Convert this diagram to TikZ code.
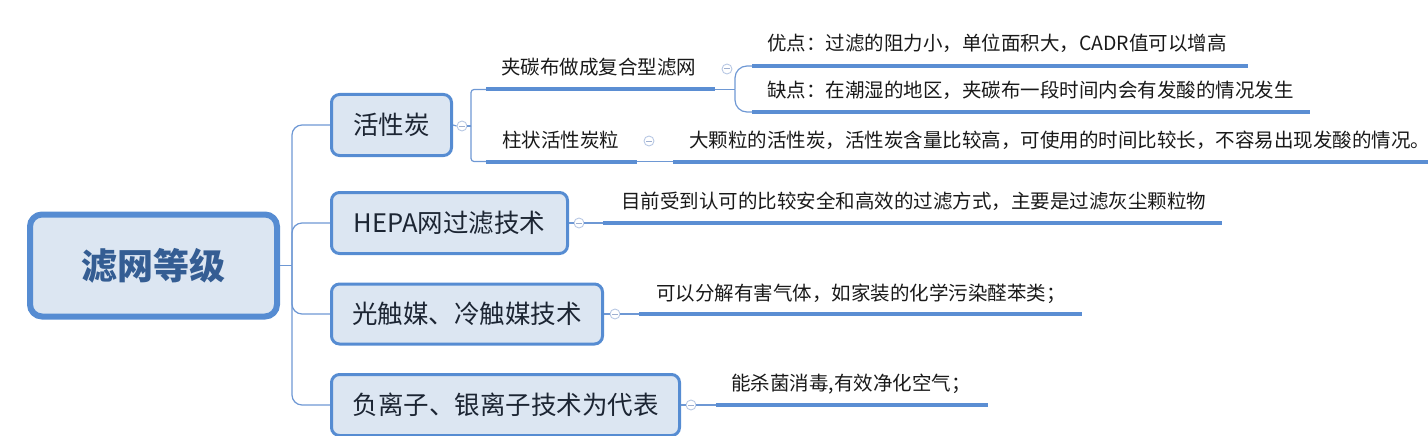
\documentclass[tikz,border=0pt]{standalone}
\usepackage{fontspec}
\setmainfont{Noto Sans CJK SC}
\definecolor{bdc}{HTML}{568CD2}
\definecolor{boxfill}{HTML}{DCE6F2}
\definecolor{lnc}{HTML}{6E98D4}
\definecolor{ulc}{HTML}{5B8ED3}
\definecolor{togc}{HTML}{B8C8E4}
\definecolor{togm}{HTML}{9FB0D0}
\definecolor{roottext}{HTML}{345D93}
\definecolor{ltext}{HTML}{1C2533}
\begin{document}
\begin{tikzpicture}[x=1pt,y=-1pt,
  conn/.style={draw=lnc, line width=1.2pt},
  uline/.style={draw=ulc, line width=4pt},
  l1/.style={draw=bdc, fill=boxfill, line width=3pt, rounded corners=8pt, inner sep=0pt,
    minimum height=61pt, font=\fontsize{25.5}{30}\selectfont, text=ltext},
  txt/.style={anchor=west, inner sep=0pt, font=\fontsize{19.5}{23}\selectfont, text=black!90,
    text height=.83em, text depth=.07em},
  tog/.style={circle, draw=togc, fill=white, line width=0.9pt, minimum size=10pt, inner sep=0pt,
    path picture={\draw[togm, line width=1pt] ([xshift=-2.6pt]path picture bounding box.center) -- ([xshift=2.6pt]path picture bounding box.center);}},
]
\useasboundingbox (0,0) rectangle (1428,436);

% root
\node[draw=bdc, fill=boxfill, line width=6pt, rounded corners=12pt, minimum width=247pt,
  minimum height=102pt, inner sep=0pt, font=\fontsize{36}{40}\selectfont\bfseries, text=roottext]
  (root) at (153.5,265.5) {滤网等级};

% level 1
\node[l1, minimum width=120pt] (act) at (391.5,125) {活性炭};
\node[l1, minimum width=236pt] (hepa) at (449.5,223) {HEPA网过滤技术};
\node[l1, minimum width=271pt, minimum height=60pt] (photo) at (467,314) {光触媒、冷触媒技术};
\node[l1, minimum width=348pt] (ion) at (505.5,405) {负离子、银离子技术为代表};

% trunk
\coordinate (tr) at (292,265.5);
\draw[conn] (root.east) -- (tr);
\foreach \n in {act,hepa,photo,ion}{
  \draw[conn, rounded corners=10pt] (tr) |- (\n.west);
}

% toggles for level 1
\node[tog] (tact) at (462,126) {};
\node[tog] (thepa) at (579,223) {};
\node[tog] (tphoto) at (615,314) {};
\node[tog] (tion) at (691,405) {};
\draw[conn] (act.east) -- (tact.west);
\draw[conn] (hepa.east) -- (thepa.west);
\draw[conn] (photo.east) -- (tphoto.west);
\draw[conn] (ion.east) -- (tion.west);

% 活性炭 children
\coordinate (bact) at (471,126);
\coordinate (u1s) at (486,89.5);
\coordinate (u1e) at (715,89.5);
\coordinate (u2s) at (486,161.5);
\coordinate (u2e) at (637,161.5);
\draw[conn] (tact.east) -- (bact);
\draw[conn, rounded corners=3pt] (bact) |- (u1s);
\draw[conn, rounded corners=3pt] (bact) |- (u2s);
\draw[uline] (u1s) -- (u1e);
\draw[uline] (u2s) -- (u2e);
\node[txt] (t1) at (501,71) {夹碳布做成复合型滤网};
\node[txt] (t2) at (502,143.5) {柱状活性炭粒};

% 夹碳布 children
\node[tog] (tt1) at (727,69) {};
\coordinate (b1) at (735,89.5);
\draw[conn] (u1e) -- (b1);
\coordinate (u3s) at (752,66);
\coordinate (u3e) at (1248,66);
\coordinate (u4s) at (752,112);
\coordinate (u4e) at (1310,112);
\draw[conn, rounded corners=12pt] (b1) |- (u3s);
\draw[conn, rounded corners=12pt] (b1) |- (u4s);
\draw[uline] (u3s) -- (u3e);
\draw[uline] (u4s) -- (u4e);
\node[txt] (t3) at (767,46.5) {优点：过滤的阻力小，单位面积大，CADR值可以增高};
\node[txt] (t4) at (767,93.5) {缺点：在潮湿的地区，夹碳布一段时间内会有发酸的情况发生};

% 柱状 child
\node[tog] (tt2) at (649,141) {};
\coordinate (u5s) at (673,161.5);
\coordinate (u5e) at (1428,161.5);
\draw[conn] (u2e) -- (u5s);
\draw[uline] (u5s) -- (u5e);
\node[txt] (t5) at (689,144) {大颗粒的活性炭，活性炭含量比较高，可使用的时间比较长，不容易出现发酸的情况。};

% HEPA child
\coordinate (u6s) at (603,223);
\coordinate (u6e) at (1222,223);
\draw[conn] (thepa.east) -- (u6s);
\draw[uline] (u6s) -- (u6e);
\node[txt] (t6) at (621,204.5) {目前受到认可的比较安全和高效的过滤方式，主要是过滤灰尘颗粒物};

% photo child
\coordinate (u7s) at (639,314);
\coordinate (u7e) at (1082,314);
\draw[conn] (tphoto.east) -- (u7s);
\draw[uline] (u7s) -- (u7e);
\node[txt] (t7) at (656,297) {可以分解有害气体，如家装的化学污染醛苯类；};

% ion child
\coordinate (u8s) at (716,405);
\coordinate (u8e) at (988,405);
\draw[conn] (tion.east) -- (u8s);
\draw[uline] (u8s) -- (u8e);
\node[txt] (t8) at (731,387) {能杀菌消毒,有效净化空气；};
\end{tikzpicture}
\end{document}
